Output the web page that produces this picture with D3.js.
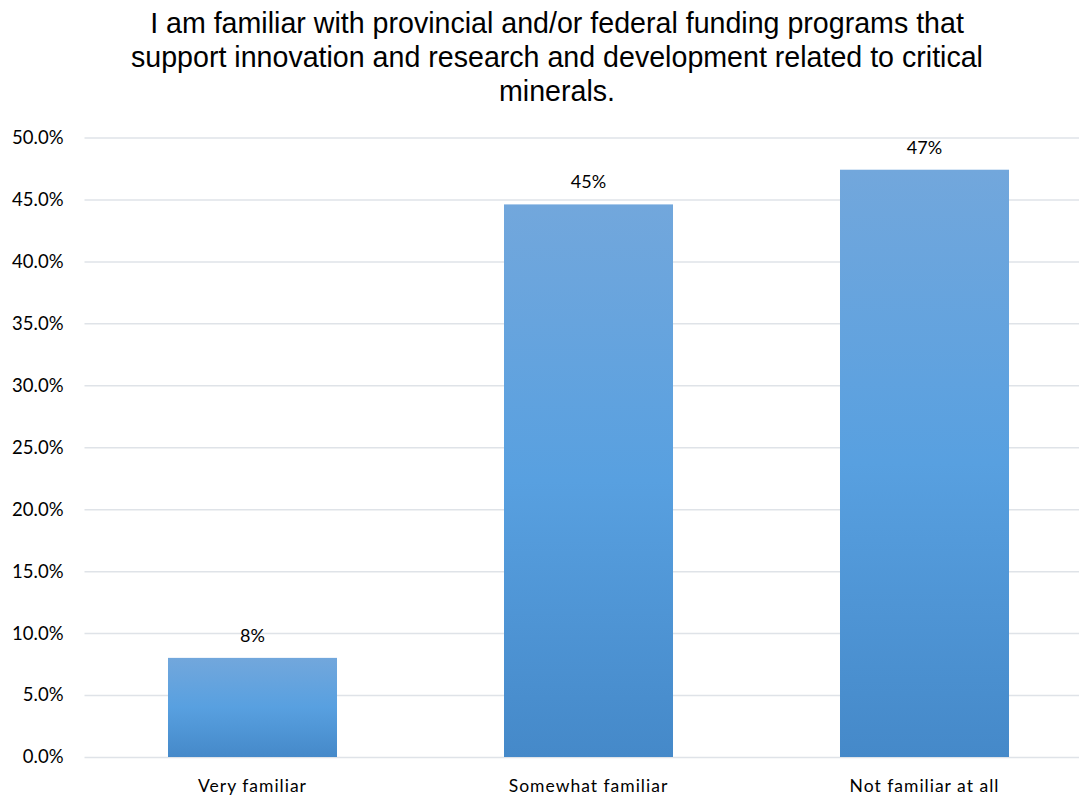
<!DOCTYPE html>
<html>
<head>
<meta charset="utf-8">
<script src="https://cdn.jsdelivr.net/npm/d3@7"></script>
<style>
  html, body { margin: 0; padding: 0; background: #fff; }
  svg { display: block; }
</style>
</head>
<body>
<svg id="chart" width="1079" height="796"></svg>
<script>
// Survey responses
const categories = ["Very familiar", "Somewhat familiar", "Not familiar at all"];
const shares = [8.0, 44.6, 47.4];           // percent of respondents
const shareLabels = ["8%", "45%", "47%"];
const yTicks = [0, 5, 10, 15, 20, 25, 30, 35, 40, 45, 50];
const titleLines = [
  "I am familiar with provincial and/or federal funding programs that",
  "support innovation and research and development related to critical",
  "minerals."
];

const svg = d3.select("#chart");
const plot = { left: 84.5, right: 1092.5, top: 137.5, bottom: 757 };
const labelFont = "Lato, 'Open Sans', sans-serif";

const x = d3.scaleBand()
  .domain(categories)
  .range([plot.left, plot.right])
  .paddingInner(0.497)
  .paddingOuter(0.2485);

const y = d3.scaleLinear().domain([0, 50]).range([plot.bottom, plot.top]);

// vertical gradient used for every bar
const defs = svg.append("defs");
const grad = defs.append("linearGradient")
  .attr("id", "barFill").attr("x1", 0).attr("y1", 0).attr("x2", 0).attr("y2", 1);
grad.append("stop").attr("offset", "0%").attr("stop-color", "#72a7dc");
grad.append("stop").attr("offset", "50%").attr("stop-color", "#58a0e0");
grad.append("stop").attr("offset", "100%").attr("stop-color", "#4589c9");

// title
svg.append("g").selectAll("text")
  .data(titleLines).join("text")
  .attr("x", 557).attr("y", (d, i) => 33 + i * 34)
  .attr("text-anchor", "middle")
  .attr("font-family", "'Liberation Sans', Arial, sans-serif")
  .attr("font-size", 28.6)
  .attr("fill", "#000")
  .text(d => d);

// gridlines + y labels
const yAxis = d3.axisLeft(y)
  .tickValues(yTicks)
  .tickSize(-(plot.right - plot.left))
  .tickPadding(21)
  .tickFormat(d => d.toFixed(1) + "%");

const gy = svg.append("g")
  .attr("transform", `translate(${plot.left},0)`)
  .call(yAxis);
gy.select(".domain").remove();
gy.selectAll(".tick line").attr("stroke", "#dfe3e8").attr("stroke-width", 1.5);
gy.selectAll(".tick text")
  .attr("font-family", labelFont)
  .attr("font-size", 18.5)
  .attr("fill", "#000");

// bars
svg.append("g").selectAll("rect")
  .data(shares).join("rect")
  .attr("x", (d, i) => x(categories[i]))
  .attr("y", d => y(d))
  .attr("width", x.bandwidth())
  .attr("height", d => y(0) - y(d))
  .attr("fill", "url(#barFill)");

// value labels
svg.append("g").selectAll("text")
  .data(shares).join("text")
  .attr("x", (d, i) => x(categories[i]) + x.bandwidth() / 2)
  .attr("y", d => y(d) - 16)
  .attr("text-anchor", "middle")
  .attr("font-family", labelFont)
  .attr("font-size", 18)
  .attr("fill", "#000")
  .text((d, i) => shareLabels[i]);

// category axis
const xAxis = d3.axisBottom(x).tickSize(0).tickPadding(23);
const gx = svg.append("g")
  .attr("transform", `translate(0,${plot.bottom})`)
  .call(xAxis);
gx.select(".domain").remove();
gx.selectAll(".tick text")
  .attr("font-family", labelFont)
  .attr("font-size", 17.5)
  .attr("letter-spacing", "1px")
  .attr("fill", "#000");
</script>
</body>
</html>
